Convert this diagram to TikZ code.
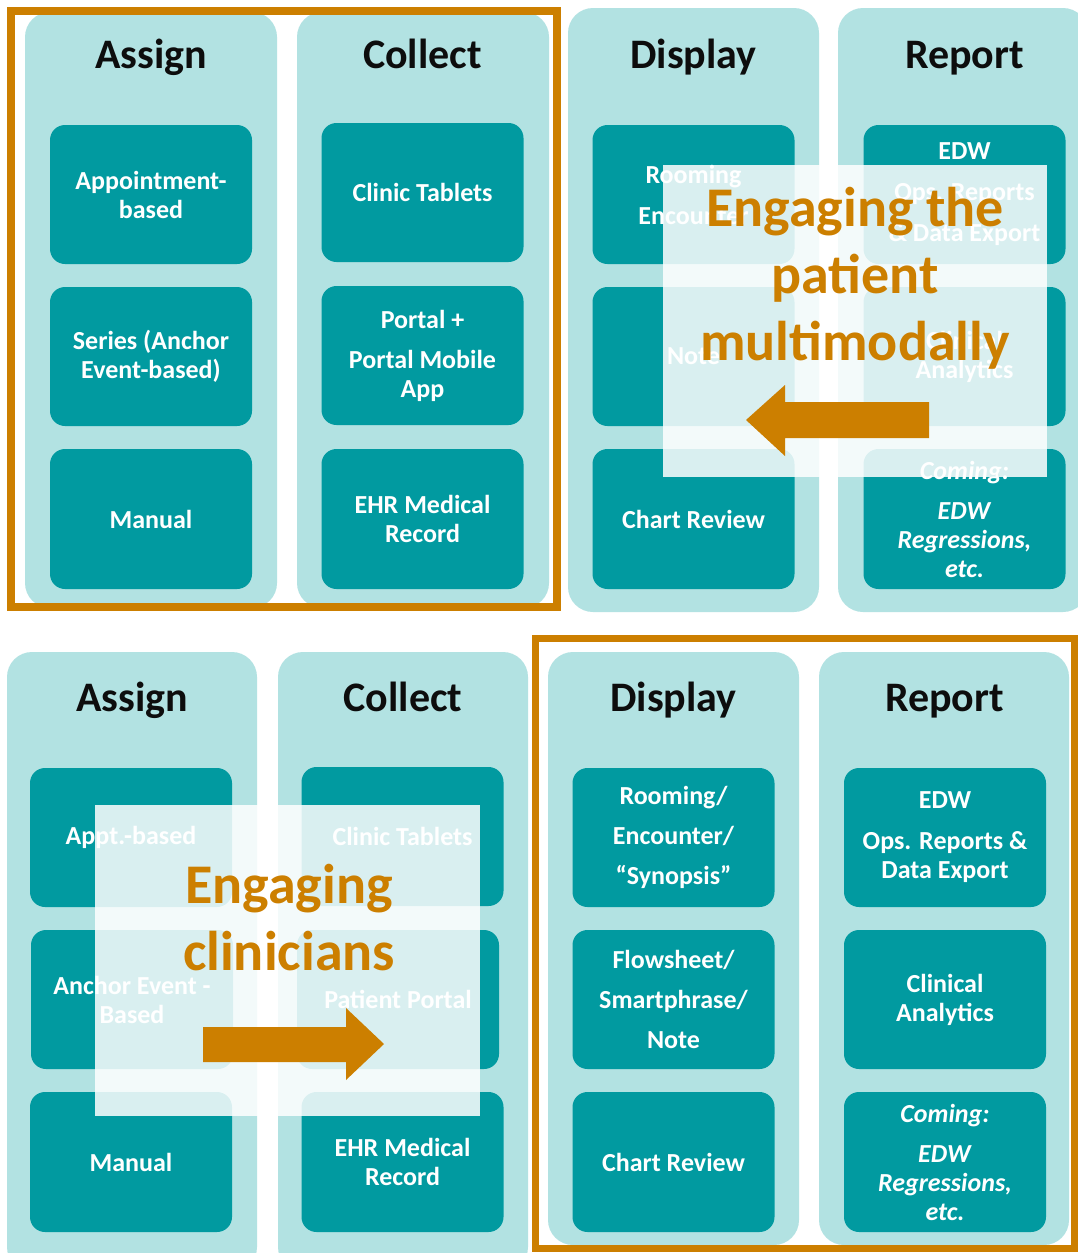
\documentclass[tikz,border=0pt]{standalone}
\usepackage{fontspec}
\setmainfont{Carlito}
\definecolor{panelc}{HTML}{B2E2E2}
\definecolor{boxc}{HTML}{019AA0}
\definecolor{orgc}{HTML}{CC7F00}
\definecolor{headc}{HTML}{0D0D0D}
\begin{document}
\begin{tikzpicture}[x=1pt,y=-1pt,
  panelbox/.style={fill=panelc, rounded corners=25pt, inner sep=0pt, minimum width=#1},
  tbox/.style={fill=boxc, rounded corners=15pt, inner sep=0pt, minimum width=202pt, minimum height=139pt,
    text=white, align=center, font=\fontsize{26}{29}\selectfont\bfseries},
  head/.style={anchor=base, text=headc, font=\fontsize{42}{50}\selectfont\bfseries, inner sep=0pt},
  overlay/.style={fill=white, fill opacity=0.85, inner sep=0pt},
  ovtext/.style={text=orgc, align=center, font=\fontsize{56}{67}\selectfont\bfseries, inner sep=0pt},
  frame/.style={draw=orgc, line width=8pt}
]
\useasboundingbox (0,0) rectangle (1078,1253);
\clip (0,0) rectangle (1078,1253);
\fill[white] (0,0) rectangle (1078,1253);

% ---------------- TOP ----------------
\node[panelbox=252pt, minimum height=596pt] (tpA) at (151,310) {};
\node[panelbox=252pt, minimum height=596pt] (tpC) at (423,310) {};
\node[panelbox=251pt, minimum height=604pt] (tpD) at (693.5,310) {};
\node[panelbox=250pt, minimum height=604pt] (tpR) at (963,310) {};

\node[head] (thA) at (151,68) {Assign};
\node[head] (thC) at (422.5,68) {Collect};
\node[head] (thD) at (693.5,68) {Display};
\node[head] (thR) at (964.5,68) {Report};

\node[tbox] (tA1) at (151,194.5) {Appointment-\\based};
\node[tbox] (tA2) at (151,356.5) {Series (Anchor\\Event-based)};
\node[tbox, minimum height=140pt] (tA3) at (151,519) {Manual};

\node[tbox] (tC1) at (422.5,192.5) {Clinic Tablets};
\node[tbox] (tC2) at (422.5,355.5) {Portal +\\[11pt]Portal Mobile\\App};
\node[tbox, minimum height=140pt] (tC3) at (422.5,519) {EHR Medical\\Record};

\node[tbox] (tD1) at (693.5,194.5) {Rooming\\[12pt]Encounter};
\node[tbox] (tD2) at (693.5,356.5) {Note};
\node[tbox, minimum height=140pt] (tD3) at (693.5,519) {Chart Review};

\node[tbox] (tR1) at (964.5,194.5) {EDW\\[12pt]Ops. Reports\\[12pt]\& Data Export};
\node[tbox] (tR2) at (964.5,356.5) {Clinical\\Analytics};
\node[tbox, minimum height=140pt] (tR3) at (964.5,519) {\textit{Coming:}\\[11pt]\textit{EDW}\\\textit{Regressions,}\\\textit{etc.}};

\node[overlay, minimum width=384pt, minimum height=312pt] (tov) at (855,321) {};
\node[ovtext] (tovt) at (855,278) {Engaging the\\patient\\multimodally};
\fill[orgc] (929,402) -- (785,402) -- (785,385) -- (746,420) -- (785,456) -- (785,438) -- (929,438) -- cycle;

\draw[frame] (11,11) rectangle (557,607);

% ---------------- BOTTOM ----------------
\node[panelbox=250pt, minimum height=620pt] (bpA) at (132,962) {};
\node[panelbox=250pt, minimum height=620pt] (bpC) at (403,962) {};
\node[panelbox=251pt, minimum height=593pt] (bpD) at (673.5,948.5) {};
\node[panelbox=250pt, minimum height=593pt] (bpR) at (944,948.5) {};

\node[head] (bhA) at (132,711) {Assign};
\node[head] (bhC) at (403,711) {Collect};
\node[head] (bhD) at (673.5,711) {Display};
\node[head] (bhR) at (944.5,711) {Report};

\node[tbox] (bA1) at (131,837.5) {Appt.-based};
\node[tbox] (bA2) at (132,999.5) {Anchor Event -\\Based};
\node[tbox, minimum height=140pt] (bA3) at (131,1162) {Manual};

\node[tbox] (bC1) at (402.5,836.5) {Clinic Tablets};
\node[tbox] (bC2) at (398,999.5) {Patient Portal};
\node[tbox, minimum height=140pt] (bC3) at (402.5,1162) {EHR Medical\\Record};

\node[tbox] (bD1) at (673.5,837.5) {Rooming/\\[11pt]Encounter/\\[11pt]“Synopsis”};
\node[tbox] (bD2) at (673.5,999.5) {Flowsheet/\\[11pt]Smartphrase/\\[11pt]Note};
\node[tbox, minimum height=140pt] (bD3) at (673.5,1162) {Chart Review};

\node[tbox] (bR1) at (945,837.5) {EDW\\[12pt]Ops. Reports \&\\Data Export};
\node[tbox] (bR2) at (945,999.5) {Clinical\\Analytics};
\node[tbox, minimum height=140pt] (bR3) at (945,1162) {\textit{Coming:}\\[11pt]\textit{EDW}\\\textit{Regressions,}\\\textit{etc.}};

\node[overlay, minimum width=385pt, minimum height=311pt] (bov) at (287.5,960.5) {};
\node[ovtext] (bovt) at (289,918) {Engaging\\clinicians};
\fill[orgc] (203,1027) -- (346,1027) -- (346,1008) -- (384,1044) -- (346,1080) -- (346,1062) -- (203,1062) -- cycle;

\draw[frame, line width=7pt] (535,638) rectangle (1074,1248);
\end{tikzpicture}
\end{document}
